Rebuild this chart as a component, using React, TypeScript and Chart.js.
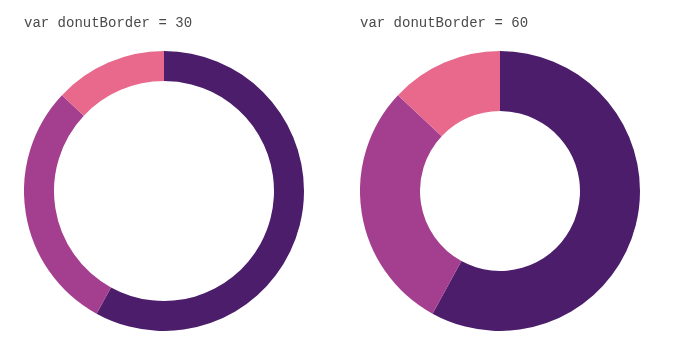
import React, { useEffect, useRef } from "react";
import { Chart, registerables } from "chart.js";

Chart.register(...registerables);

const categories = ["Segment A", "Segment B", "Segment C"];
const seriesValues = [58, 29, 13];
const sliceColors = ["#4b1d6b", "#a43e8e", "#e8698c"];
const donutBorders = [30, 60];
const titles = ["var donutBorder = 30", "var donutBorder = 60"];

const RADIUS = 140;

function Donut({ border, title, left }: { border: number; title: string; left: number }) {
  const ref = useRef<HTMLCanvasElement | null>(null);
  useEffect(() => {
    if (!ref.current) return;
    const chart = new Chart(ref.current, {
      type: "doughnut",
      data: {
        labels: categories,
        datasets: [
          {
            data: seriesValues,
            backgroundColor: sliceColors,
            borderWidth: 0,
          },
        ],
      },
      options: {
        responsive: false,
        animation: false,
        devicePixelRatio: 1,
        cutout: RADIUS - border,
        layout: { padding: 0 },
        plugins: {
          legend: { display: false },
          tooltip: { enabled: false },
          title: {
            display: true,
            text: title,
            align: "start",
            color: "#4a4a4a",
            font: { family: "'Liberation Mono', monospace", size: 14, weight: "normal", lineHeight: 1.2 },
            padding: { top: 14.6, bottom: 19.6 },
          },
        },
      },
    });
    return () => chart.destroy();
  }, [border, title]);
  return (
    <canvas
      ref={ref}
      width={280}
      height={331}
      style={{ position: "absolute", left, top: 0, width: 280, height: 331 }}
    />
  );
}

export default function App() {
  return (
    <div style={{ position: "absolute", left: 0, top: 0, width: 700, height: 355, background: "#fff" }}>
      <Donut border={donutBorders[0]} title={titles[0]} left={24} />
      <Donut border={donutBorders[1]} title={titles[1]} left={360} />
    </div>
  );
}
